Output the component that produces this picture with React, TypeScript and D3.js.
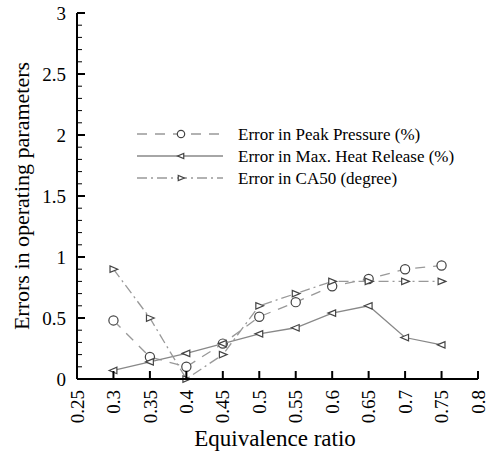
import React from "react";
import * as d3 from "d3";

const phi = [0.3, 0.35, 0.4, 0.45, 0.5, 0.55, 0.6, 0.65, 0.7, 0.75];
const peakPressure = [0.48, 0.18, 0.1, 0.29, 0.51, 0.63, 0.76, 0.82, 0.9, 0.93];
const maxHeatRelease = [0.07, 0.14, 0.21, 0.29, 0.37, 0.42, 0.54, 0.6, 0.34, 0.28];
const ca50 = [0.9, 0.5, 0.0, 0.2, 0.6, 0.7, 0.8, 0.8, 0.8, 0.8];
const xTicks = [0.25, 0.3, 0.35, 0.4, 0.45, 0.5, 0.55, 0.6, 0.65, 0.7, 0.75, 0.8];
const yTicks = [0, 0.5, 1, 1.5, 2, 2.5, 3];
const legendLabels = ["Error in Peak Pressure (%)", "Error in Max. Heat Release (%)", "Error in CA50 (degree)"];

const W = 488, H = 455;
const x = d3.scaleLinear().domain([0.25, 0.8]).range([77, 478]);
const y = d3.scaleLinear().domain([0, 3]).range([379, 13]);
const FONT = "Times New Roman";
const markCol = "#444";

type Kind = "circle" | "left" | "right";

function Marker({ cx, cy, kind, sc = 1 }: { cx: number; cy: number; kind: Kind; sc?: number }) {
  if (kind === "circle") return <circle cx={cx} cy={cy} r={4.6 * sc} fill="white" stroke={markCol} strokeWidth={1.2} />;
  const s = 4.3 * sc;
  const pts = kind === "left"
    ? [[cx - s, cy], [cx + s * 0.8, cy - s * 0.75], [cx + s * 0.8, cy + s * 0.75]]
    : [[cx + s, cy], [cx - s * 0.8, cy - s * 0.75], [cx - s * 0.8, cy + s * 0.75]];
  return <polygon points={pts.map(p => p.join(",")).join(" ")} fill="white" stroke={markCol} strokeWidth={1.2} />;
}

const series: { vals: number[]; kind: Kind; dash: string; col: string }[] = [
  { vals: peakPressure, kind: "circle", dash: "10,8", col: "#999" },
  { vals: maxHeatRelease, kind: "left", dash: "", col: "#888" },
  { vals: ca50, kind: "right", dash: "10,4,2,4", col: "#999" },
];

export default function App() {
  const line = d3.line<[number, number]>().x(d => x(d[0])).y(d => y(d[1]));
  const minor = d3.range(0, 3.001, 0.1).filter(v => Math.abs(v * 2 - Math.round(v * 2)) > 1e-6);
  return (
    <svg width={W} height={H} fontFamily={FONT} style={{ position: "absolute", left: 0, top: 0 }}>
      <rect width={W} height={H} fill="white" />
      {series.map((s, i) => (
        <g key={i}>
          <path d={line(phi.map((p, j) => [p, s.vals[j]]) as [number, number][]) || ""} fill="none" stroke={s.col} strokeWidth={1.3} strokeDasharray={s.dash} />
          {phi.map((p, j) => <Marker key={j} cx={x(p)} cy={y(s.vals[j])} kind={s.kind} />)}
        </g>
      ))}
      <line x1={x(0.25)} x2={x(0.25)} y1={y(3)} y2={y(0)} stroke="black" strokeWidth={2} />
      <line x1={x(0.25)} x2={x(0.8)} y1={y(0)} y2={y(0)} stroke="black" strokeWidth={2} />
      {yTicks.map(t => (
        <g key={t}>
          <line x1={x(0.25)} x2={x(0.25) + 8} y1={y(t)} y2={y(t)} stroke="black" strokeWidth={2} />
          <text x={66} y={y(t)} dy="0.35em" textAnchor="end" fontFamily={FONT} fontSize={19}>{t}</text>
        </g>
      ))}
      {minor.map(t => (
        <line key={t} x1={x(0.25)} x2={x(0.25) + 5} y1={y(t)} y2={y(t)} stroke="black" strokeWidth={1} />
      ))}
      {xTicks.map(t => (
        <g key={t}>
          <line x1={x(t)} x2={x(t)} y1={y(0)} y2={y(0) - 8} stroke="black" strokeWidth={2} />
          <text transform={`translate(${x(t)},${y(0) + 11}) rotate(-90)`} dy="0.35em" textAnchor="end" fontFamily={FONT} fontSize={19}>{t}</text>
        </g>
      ))}
      <text x={275} y={446} textAnchor="middle" fontFamily={FONT} fontSize={23}>Equivalence ratio</text>
      <text transform={`translate(29,196) rotate(-90)`} textAnchor="middle" fontFamily={FONT} fontSize={22}>Errors in operating parameters</text>
      {series.map((s, i) => {
        const ly = 134 + i * 22;
        return (
          <g key={i}>
            <line x1={137} x2={223} y1={ly} y2={ly} stroke={s.col} strokeWidth={1.3} strokeDasharray={s.dash} />
            <Marker cx={181} cy={ly} kind={s.kind} sc={0.8} />
            <text x={238} y={ly} dy="0.35em" fontFamily={FONT} fontSize={17}>{legendLabels[i]}</text>
          </g>
        );
      })}
    </svg>
  );
}
